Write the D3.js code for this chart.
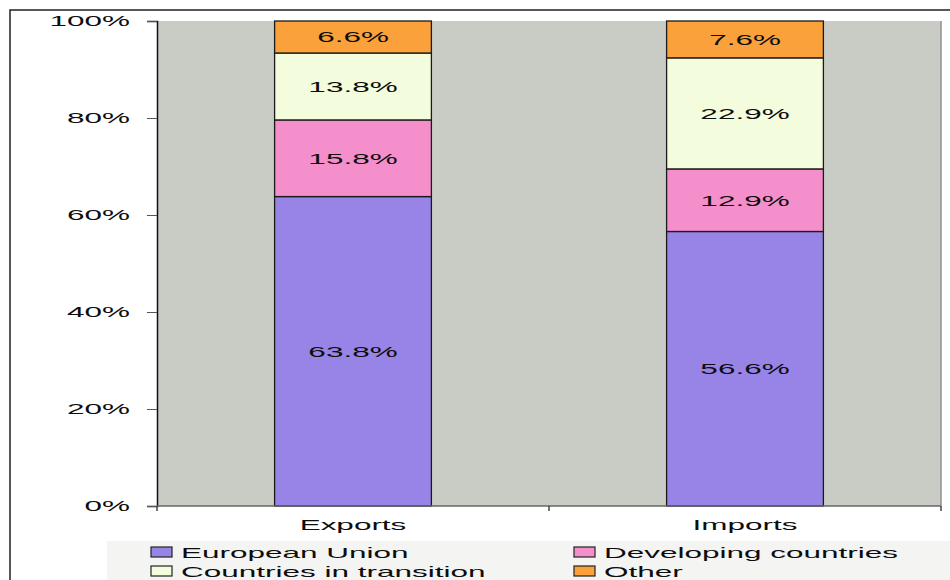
<!DOCTYPE html>
<html>
<head>
<meta charset="utf-8">
<script src="https://cdn.jsdelivr.net/npm/d3@7"></script>
<style>
  html, body { margin: 0; padding: 0; background: #ffffff; }
  svg { display: block; }
  text { font-family: "Liberation Sans", Arial, sans-serif; fill: #0d0d0d; }
</style>
</head>
<body>
<svg id="chart" width="950" height="580"></svg>
<script>
// Trade flows by partner group, share of total (%)
const categories = ["Exports", "Imports"];
const seriesNames = ["European Union", "Developing countries", "Countries in transition", "Other"];
const europeanUnion = [63.8, 56.6];
const developingCountries = [15.8, 12.9];
const countriesInTransition = [13.8, 22.9];
const other = [6.6, 7.6];
const yTickValues = [0, 20, 40, 60, 80, 100];
const yTickLabels = ["0%", "20%", "40%", "60%", "80%", "100%"];

const colors = ["#9784E6", "#F48FCC", "#F3FCDC", "#FAA13B"];
const seriesValues = [europeanUnion, developingCountries, countriesInTransition, other];

const rows = categories.map((c, i) => {
  const r = { category: c };
  seriesNames.forEach((s, k) => { r[s] = seriesValues[k][i]; });
  return r;
});

const svg = d3.select("#chart");
const stretch = 2.1;   // wide-set lettering
const fontSize = 15;

function wideText(g, x, y, str, anchor, baseline) {
  const t = g.append("text")
    .attr("transform", `translate(${x},${y}) scale(${stretch},1)`)
    .attr("text-anchor", anchor || "middle")
    .style("font-size", fontSize + "px")
    .text(str);
  if (baseline === "central") t.attr("dy", "0.36em");
  return t;
}

const plot = { left: 157, right: 941, top: 21, bottom: 506 };

const x = d3.scaleBand()
  .domain(categories)
  .range([plot.left, plot.right])
  .paddingInner(0.6)
  .paddingOuter(0.3);

const y = d3.scaleLinear()
  .domain([0, 100])
  .range([plot.bottom, plot.top]);

// outer frame
svg.append("path")
  .attr("d", `M10,582 L10,10 L952,10`)
  .attr("fill", "none")
  .attr("stroke", "#222")
  .attr("stroke-width", 1.5);

// plot background
svg.append("rect")
  .attr("x", plot.left).attr("y", plot.top)
  .attr("width", plot.right - plot.left)
  .attr("height", plot.bottom - plot.top)
  .attr("fill", "#C9CBC5");
svg.append("line")
  .attr("x1", plot.right).attr("x2", plot.right)
  .attr("y1", plot.top).attr("y2", plot.bottom)
  .attr("stroke", "#8E918B").attr("stroke-width", 1.5);

// stacked bars
const stack = d3.stack().keys(seriesNames);
const layers = stack(rows);

const barG = svg.append("g");
layers.forEach((layer, k) => {
  barG.selectAll(null)
    .data(layer)
    .join("rect")
    .attr("x", d => x(d.data.category))
    .attr("width", x.bandwidth())
    .attr("y", d => y(d[1]))
    .attr("height", d => y(d[0]) - y(d[1]))
    .attr("fill", colors[k])
    .attr("stroke", "#1a1a1a")
    .attr("stroke-width", 1.3);
});

// value labels
const labelG = svg.append("g");
layers.forEach((layer, k) => {
  layer.forEach(d => {
    const v = d.data[layer.key];
    wideText(labelG, x(d.data.category) + x.bandwidth() / 2, y((d[0] + d[1]) / 2),
      v.toFixed(1) + "%", "middle", "central");
  });
});

// y axis
const yAxis = d3.axisLeft(y)
  .tickValues(yTickValues)
  .tickSize(10)
  .tickFormat("");
const yAxisG = svg.append("g")
  .attr("transform", `translate(${plot.left},0)`)
  .call(yAxis);
yAxisG.select(".domain").attr("stroke", "#111").attr("stroke-width", 1.5);
yAxisG.selectAll(".tick line").attr("stroke", "#555");
yTickValues.forEach((v, i) => {
  wideText(svg, 130, y(v), yTickLabels[i], "end", "central");
});

// x axis
svg.append("line")
  .attr("x1", plot.left).attr("x2", plot.right)
  .attr("y1", plot.bottom).attr("y2", plot.bottom)
  .attr("stroke", "#666").attr("stroke-width", 1.5);
const boundaries = [plot.left, (x(categories[0]) + x.bandwidth() + x(categories[1])) / 2, plot.right];
boundaries.forEach(bx => {
  svg.append("line")
    .attr("x1", bx).attr("x2", bx)
    .attr("y1", plot.bottom).attr("y2", plot.bottom + 5)
    .attr("stroke", "#444").attr("stroke-width", 1.5);
});
categories.forEach(c => {
  wideText(svg, x(c) + x.bandwidth() / 2, 530, c, "middle");
});

// legend
const legend = svg.append("g");
legend.append("rect")
  .attr("x", 107).attr("y", 541)
  .attr("width", 845).attr("height", 45)
  .attr("fill", "#F4F4F3");
const legendPos = [
  { sx: 151, sy: 547, tx: 181, ty: 558 },
  { sx: 574, sy: 547, tx: 604, ty: 558 },
  { sx: 151, sy: 566, tx: 181, ty: 577 },
  { sx: 574, sy: 566, tx: 604, ty: 577 }
];
seriesNames.forEach((s, k) => {
  const p = legendPos[k];
  legend.append("rect")
    .attr("x", p.sx).attr("y", p.sy)
    .attr("width", 21).attr("height", 10)
    .attr("fill", colors[k])
    .attr("stroke", "#222").attr("stroke-width", 1.2);
  wideText(legend, p.tx, p.ty, s, "start");
});
</script>
</body>
</html>
